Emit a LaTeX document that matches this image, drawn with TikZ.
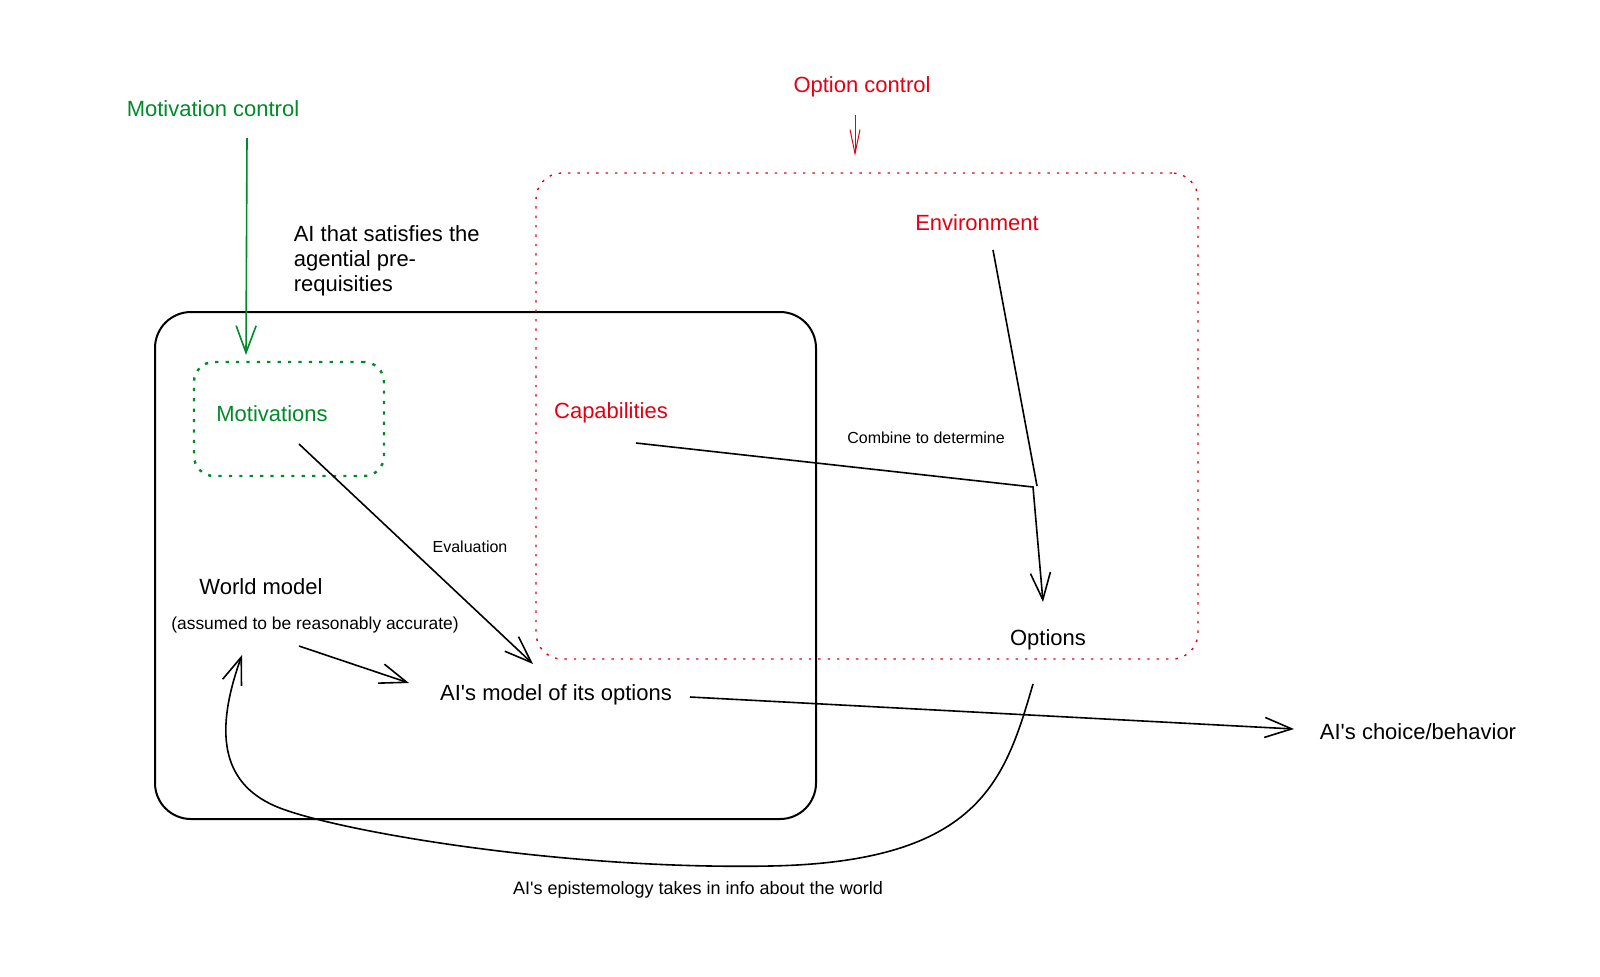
\documentclass[tikz,border=0pt]{standalone}
\usepackage{fontspec}
\setmainfont{Liberation Sans}[Ligatures=TeXOff]
\usetikzlibrary{arrows.meta, positioning}
\definecolor{ctrlgreen}{RGB}{0,138,40}
\definecolor{ctrlred}{RGB}{228,0,18}

\begin{document}
\begin{tikzpicture}[x=0.5pt,y=-0.5pt,line width=0.8pt,>={Straight Barb[length=13.5pt,width=10pt]},
      every node/.style={inner sep=0pt,font=\fontsize{11}{12.5}\selectfont},
      small/.style={font=\fontsize{8}{9}\selectfont},
      agentbox/.style={draw,line width=1pt,rounded corners=18pt,minimum width=330.5pt,minimum height=253.5pt},
      optbox/.style={draw=ctrlred,line width=0.7pt,dash pattern=on 1.2pt off 3.5pt,rounded corners=13pt,minimum width=331pt,minimum height=243pt},
      motbox/.style={draw=ctrlgreen,line width=1.2pt,dash pattern=on 1.6pt off 3.6pt,rounded corners=10pt,minimum width=95pt,minimum height=57pt}]
      \useasboundingbox (0,0) rectangle (1600,976);
      % containers
      \node[agentbox] (agent) at (485.5,565.5) {};
      \node[optbox]   (optarea) at (867,416) {};
      \node[motbox]   (motarea) at (289,419) {};
      % labels
      \node[text=ctrlgreen] (mot_ctrl) at (213,109) {Motivation control};
      \node[text=ctrlred]   (opt_ctrl) at (862,87)  {Option control};
      \node[anchor=west,align=left] (agent_lbl) at (293,261) {AI that satisfies the\\agential pre-\\requisities};
      \node[text=ctrlred]   (env)  at (977,223) {Environment};
      \node[text=ctrlred]   (cap)  at (611,413) {Capabilities};
      \node[text=ctrlgreen] (mot)  at (272,414) {Motivations};
      \node[small] (combine) at (926,438) {Combine to determine};
      \node (options) at (1048,640) {Options};
      \node[small] (eval) at (470,547) {Evaluation};
      \node (world) at (261,587) {World model};
      \node[font=\fontsize{8.7}{10}\selectfont] (world_note) at (315,625) {(assumed to be reasonably accurate)};
      \node (model) at (556,695) {AI's model of its options};
      \node (choice) at (1418,732) {AI's choice/behavior};
      \node[font=\fontsize{9}{10}\selectfont] (episteme) at (698,890) {AI's epistemology takes in info about the world};
      % connector ends
      \coordinate (mc_top) at (247,138);
      \coordinate (mc_tip) at (246,355);
      \coordinate (oc_top) at (855,115);
      \coordinate (oc_tip) at (855,156);
      \coordinate (env_top) at (993,250);
      \coordinate (env_end) at (1037,486);
      \coordinate (cap_start) at (636,443);
      \coordinate (join) at (1033,487);
      \coordinate (opt_tip) at (1043,602);
      \coordinate (eval_start) at (299,444);
      \coordinate (eval_tip) at (533,664);
      \coordinate (wm_start) at (299,646);
      \coordinate (wm_tip) at (409,683);
      \coordinate (choice_start) at (690,697);
      \coordinate (choice_tip) at (1294,729);
      \coordinate (epi_start) at (1033,684);
      \coordinate (epi_low) at (770,866);
      \coordinate (epi_left) at (275,806);
      \coordinate (epi_tip) at (242,655);
      % connectors
      \draw[->,ctrlgreen] (mc_top) -- (mc_tip);
      \draw[->,ctrlred,line width=0.5pt,>={Straight Barb[length=12pt,width=5pt]}] (oc_top) -- (oc_tip);
      \draw (env_top) -- (env_end);
      \draw[->] (cap_start) -- (join) -- (opt_tip);
      \draw[->] (eval_start) -- (eval_tip);
      \draw[->] (wm_start) -- (wm_tip);
      \draw[->] (choice_start) -- (choice_tip);
      \draw[->] (epi_start) .. controls (1005,780) and (980,862) .. (epi_low)
            .. controls (560,870) and (330,830) .. (epi_left)
            .. controls (220,782) and (215,730) .. (epi_tip);
    \end{tikzpicture}
\end{document}
